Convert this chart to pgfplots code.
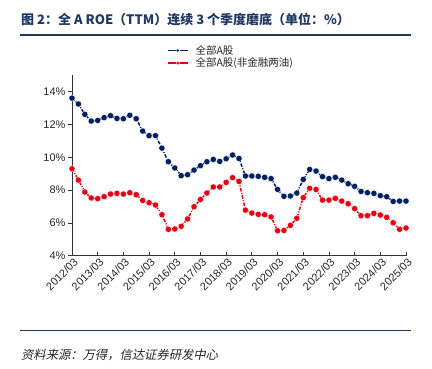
\documentclass[border=0pt]{standalone}
\usepackage{pgfplots}
\pgfplotsset{compat=1.18}
\usepackage{pgfplotstable}
\usepackage{fontspec}
\setmainfont{Liberation Sans}
\newfontfamily\cjk{Noto Sans CJK SC}
\newfontfamily\cjkit{Noto Sans CJK SC}[FakeSlant=0.22]
\definecolor{navy}{RGB}{0,32,96}
\definecolor{cred}{RGB}{230,0,18}
\definecolor{titleblue}{RGB}{31,56,100}
\pgfplotstableread{
idx all nonfin
0 13.61 9.30
1 13.25 8.61
2 12.62 7.88
3 12.21 7.52
4 12.25 7.48
5 12.42 7.60
6 12.54 7.76
7 12.37 7.80
8 12.35 7.76
9 12.56 7.84
10 12.35 7.72
11 11.60 7.37
12 11.32 7.23
13 11.32 7.09
14 10.56 6.50
15 9.73 5.61
16 9.35 5.63
17 8.88 5.79
18 8.94 6.24
19 9.22 6.99
20 9.49 7.43
21 9.73 7.82
22 9.87 8.19
23 9.75 8.19
24 9.91 8.47
25 10.14 8.76
26 9.93 8.53
27 8.86 6.78
28 8.86 6.60
29 8.84 6.52
30 8.78 6.50
31 8.70 6.36
32 8.04 5.52
33 7.62 5.54
34 7.64 5.85
35 7.82 6.28
36 8.65 7.54
37 9.26 8.11
38 9.16 8.04
39 8.82 7.39
40 8.70 7.39
41 8.78 7.50
42 8.61 7.33
43 8.39 7.17
44 8.23 6.87
45 7.92 6.44
46 7.84 6.44
47 7.80 6.58
48 7.66 6.48
49 7.60 6.34
50 7.31 6.01
51 7.33 5.61
52 7.33 5.69
}\roe
\begin{document}
\begin{tikzpicture}[x=1pt,y=1pt]
\useasboundingbox (0,0) rectangle (432,368);
\node[anchor=west,inner sep=0pt,text=titleblue,font=\cjk\bfseries\fontsize{13}{15}\selectfont] at (21,348) {图 2：全 A ROE（TTM）连续 3 个季度磨底（单位：\%）};
\draw[titleblue,line width=1.3pt] (20,333) -- (411,333);
\draw[titleblue,line width=1.3pt] (20,37.3) -- (411,37.3);
\node[anchor=west,inner sep=0pt,text=black!85,font=\cjkit\fontsize{12.3}{14}\selectfont] at (21,13) {资料来源：万得，信达证券研发中心};
\begin{axis}[
  at={(72pt,112.3pt)}, anchor=south west,
  scale only axis, width=334pt, height=180.4pt,
  xmin=0, xmax=52, ymin=4, ymax=15,
  clip=false,
  axis lines*=left,
  axis line style={-, black!80, line width=0.9pt},
  xtick={0,4,...,52},
  xticklabels={2012/03,2013/03,2014/03,2015/03,2016/03,2017/03,2018/03,2019/03,2020/03,2021/03,2022/03,2023/03,2024/03,2025/03},
  ytick={4,6,...,14},
  yticklabel={\pgfmathprintnumber{\tick}\%},
  /pgf/number format/assume math mode=true,
  tick align=inside,
  major tick length=4pt,
  tick style={black!80, line width=0.8pt},
  y tick style={xshift=-4pt},
  ticklabel style={text=black!85},
  y tick label style={font=\fontsize{11}{13}\selectfont, xshift=-3pt},
  x tick label style={font=\fontsize{11}{13}\selectfont, rotate=45, anchor=east, xshift=3pt, yshift=-6pt},
  legend style={at={(0.275,1.185)}, anchor=north west, draw=none, fill=none,
    font=\cjk\fontsize{10.5}{12}\selectfont, text=black!85,
    nodes={inner sep=1.1pt}, column sep=6pt, row sep=0pt},
  legend cell align=left,
  legend image code/.code={
    \draw[#1, solid, line width=1.4pt, mark repeat=2, mark phase=2, mark size=1.9pt] plot coordinates {(0pt,0pt) (10pt,0pt) (20pt,0pt)};
  },
]
\addplot[navy, line width=1.5pt, dash pattern=on 3.5pt off 1.5pt on 1pt off 1.5pt,
  mark=*, mark size=3.1pt, mark options={solid, fill=navy, draw=white, line width=0.3pt}]
  table[x=idx, y=all] {\roe};
\addlegendentry{全部A股}
\addplot[cred, line width=1.5pt, dash pattern=on 3.5pt off 1.5pt on 1pt off 1.5pt,
  mark=*, mark size=3.1pt, mark options={solid, fill=cred, draw=white, line width=0.3pt}]
  table[x=idx, y=nonfin] {\roe};
\addlegendentry{全部A股(非金融两油)}
\end{axis}
\end{tikzpicture}
\end{document}
